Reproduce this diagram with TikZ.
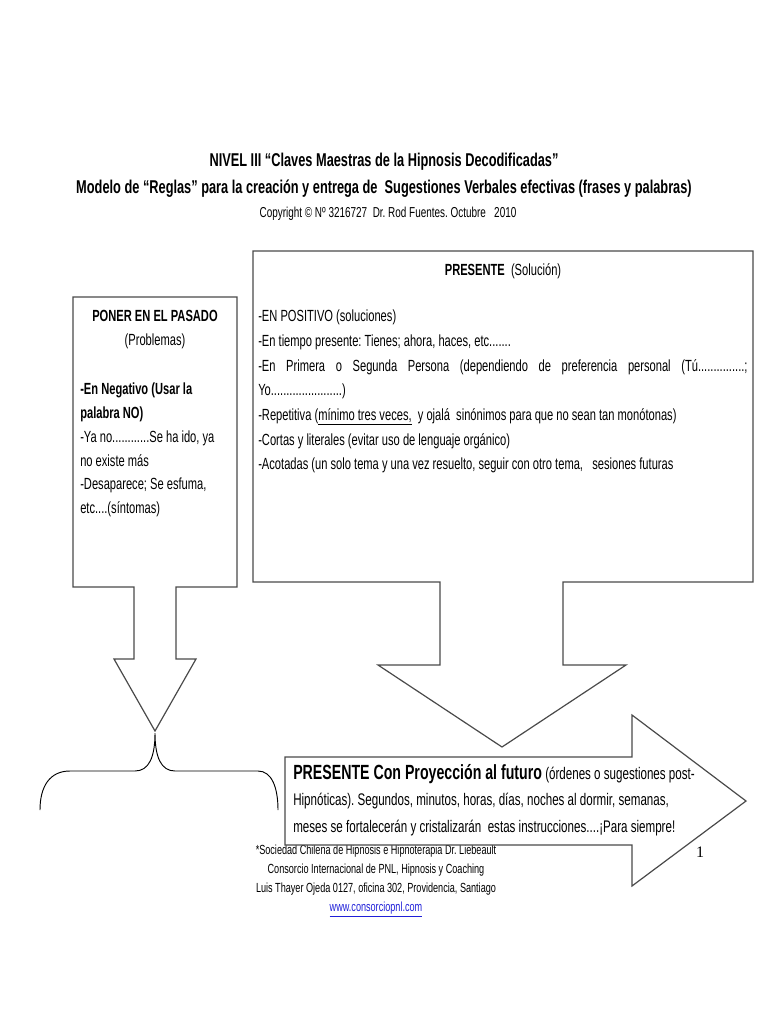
\documentclass[tikz,border=0pt]{standalone}
\usepackage{fontspec}
\setmainfont{Liberation Sans}[FakeStretch=0.69]
\newfontfamily\pagefont{Liberation Serif}
\usetikzlibrary{positioning}
\definecolor{edge}{HTML}{4A4A4A}
\definecolor{weblink}{HTML}{1F1FD8}

\begin{document}
\frenchspacing
\begin{tikzpicture}[x=0.75pt,y=-0.75pt,
 every node/.style={inner sep=0pt,font=\fontsize{12.1}{17.8}\selectfont},
 callout/.style={draw=edge,fill=white,line width=.9pt,line join=miter},
 brace/.style={draw=black,line width=.7pt},
 heading/.style={anchor=base,font=\fontsize{13.9}{15}\selectfont\bfseries}]
\useasboundingbox (0,0) rectangle (768,1024);
\node[heading] (title) at (384,166) {NIVEL III “Claves Maestras de la Hipnosis Decodificadas”};
\node[heading] (subtitle) at (384,193) {Modelo de “Reglas” para la creación y entrega de\ \ Sugestiones Verbales efectivas (frases y palabras)};
\node[anchor=base,font=\fontsize{10.8}{12}\selectfont] (copyright) at (388,217) {Copyright © Nº 3216727\ \ Dr. Rod Fuentes. Octubre\ \ \ 2010};
\draw[callout] (73,297) -| (237,587) -- (176,587) -- (176,659) -- (196,659) -- (155,731) -- (114,659) -- (134,659) -- (134,587) -- (73,587) -- cycle;
\draw[callout] (253,251) -| (753,582) -- (563,582) -- (563,665) -- (626,665) -- (502,747) -- (378,665) -- (440,665) -- (440,582) -- (253,582) -- cycle;
\node[anchor=north,align=center] (pasthead) at (155,310) {\textbf{PONER EN EL PASADO}\\(Problemas)};
\node[anchor=north west,align=left] (pastbody) at (80,383) {\textbf{-En Negativo (Usar la}\\\textbf{palabra NO)}\\-Ya no............Se ha ido, ya\\no existe más\\-Desaparece; Se esfuma,\\etc....(síntomas)};
\node[anchor=base] (presenthead) at (503,275) {\textbf{PRESENTE}\ \ (Solución)};
\node[anchor=north west,align=left,font=\fontsize{12.1}{18.5}\selectfont] (presentbody) at (258,310) {-EN POSITIVO (soluciones)\\-En tiempo presente: Tienes; ahora, haces, etc.......\\\makebox[367pt][s]{-En Primera o Segunda Persona (dependiendo de preferencia personal (Tú...............;}\\Yo.......................)\\-Repetitiva (\underline{mínimo tres veces,}\ \ y ojalá\ \ sinónimos para que no sean tan monótonas)\\-Cortas y literales (evitar uso de lenguaje orgánico)\\-Acotadas (un solo tema y una vez resuelto, seguir con otro tema,\ \ \ sesiones futuras};
\draw[brace] (40,810) .. controls (40,786) and (50,771) .. (70,771) -- (135,771) .. controls (149,771) and (155,757) .. (155,733) .. controls (155,757) and (161,771) .. (175,771) -- (258,771) .. controls (272,771) and (278,788) .. (278,810);
\node[anchor=north,align=center,font=\fontsize{9.9}{14.2}\selectfont] (footer) at (376,845) {*Sociedad Chilena de Hipnosis e Hipnoterapia Dr. Liebeault\\Consorcio Internacional de PNL, Hipnosis y Coaching\\Luis Thayer Ojeda 0127, oficina 302, Providencia, Santiago\\\textcolor{weblink}{\underline{www.consorciopnl.com}}};
\draw[callout] (285,757) -- (632,757) -- (632,715) -- (746,801) -- (632,886) -- (632,845) -- (285,845) -- cycle;
\node[anchor=north west,align=left,font=\fontsize{12.6}{19.8}\selectfont] (futuretext) at (293,764) {{\fontsize{15.4}{19.8}\selectfont\bfseries PRESENTE Con Proyección al futuro} (órdenes o sugestiones post-\\Hipnóticas). Segundos, minutos, horas, días, noches al dormir, semanas,\\meses se fortalecerán y cristalizarán\ \ estas instrucciones....¡Para siempre!};
\node[anchor=base,font=\pagefont\fontsize{12}{14}\selectfont] (pagenum) at (700,857) {1};
\end{tikzpicture}
\end{document}
